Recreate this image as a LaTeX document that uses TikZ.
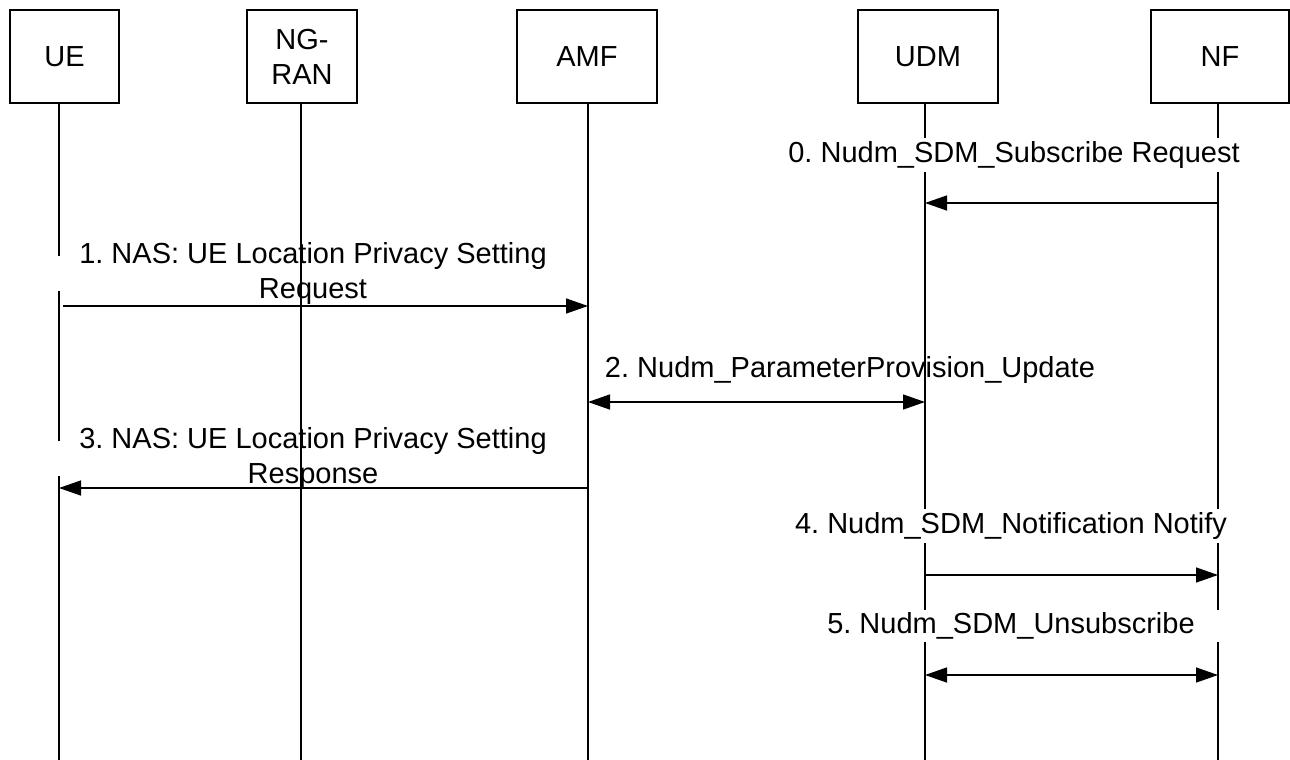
\documentclass[tikz,border=0pt]{standalone}
\usepackage{fontspec}
\setmainfont{Liberation Sans}
\usetikzlibrary{arrows.meta}
\frenchspacing

\begin{document}
\begin{tikzpicture}[x=0.5pt,y=-0.5pt,
  >={Triangle[length=11pt,width=7.5pt]},
  font=\fontsize{14.5}{17.5}\selectfont,
  entity/.style={draw,line width=0.9pt,minimum height=46.5pt,inner sep=0pt,align=center},
  life/.style={line width=0.75pt},
  msg/.style={line width=0.7pt},
  msglabel/.style={fill=white,inner xsep=0pt,inner ysep=1.5pt,align=center}]
\useasboundingbox (0,0) rectangle (1290,760);

% entities
\node[entity,minimum width=54.5pt] (UE) at (64.5,56.5) {UE};
\node[entity,minimum width=55pt] (RAN) at (302,56.5) {NG-\\RAN};
\node[entity,minimum width=70pt] (AMF) at (587,56.5) {AMF};
\node[entity,minimum width=70pt] (UDM) at (928,56.5) {UDM};
\node[entity,minimum width=69pt] (NF) at (1220,56.5) {NF};

% lifeline ends
\coordinate (ueL) at (59,760);
\coordinate (ranL) at (301,760);
\coordinate (amfL) at (588,760);
\coordinate (udmL) at (925,760);
\coordinate (nfL) at (1218,760);

\draw[life] (UE.south -| ueL) -- (ueL);
\draw[life] (AMF.south -| amfL) -- (amfL);
\draw[life] (UDM.south -| udmL) -- (udmL);
\draw[life] (NF.south -| nfL) -- (nfL);

% message heights
\coordinate (t0) at (0,203);
\coordinate (t1) at (0,306);
\coordinate (t2) at (0,402);
\coordinate (t3) at (0,488);
\coordinate (t4) at (0,575);
\coordinate (t5) at (0,675);

% labels
\node[msglabel,minimum width=230pt] (l0) at (1014,155) {0. Nudm\_SDM\_Subscribe Request};
\node[msglabel,minimum width=260pt,inner ysep=-7pt] (l1) at (313,273.5) {1. NAS: UE Location Privacy Setting\\Request};
\node[msglabel,fill=none] (l2) at (850,370) {2. Nudm\_ParameterProvision\_Update};
\node[msglabel,minimum width=260pt,inner ysep=-7pt] (l3) at (313,458.5) {3. NAS: UE Location Privacy Setting\\Response};
\node[msglabel,minimum width=230pt] (l4) at (1011,526) {4. Nudm\_SDM\_Notification Notify};
\node[msglabel,minimum width=230pt] (l5) at (1011,626) {5. Nudm\_SDM\_Unsubscribe};

\draw[life] (RAN.south -| ranL) -- (ranL);

% messages
\draw[msg,->] (nfL |- t0) -- (udmL |- t0);
\draw[msg,->,shorten <=2pt] (ueL |- t1) -- (amfL |- t1);
\draw[msg,<->] (amfL |- t2) -- (udmL |- t2);
\draw[msg,->] (amfL |- t3) -- (ueL |- t3);
\draw[msg,->] (udmL |- t4) -- (nfL |- t4);
\draw[msg,<->] (udmL |- t5) -- (nfL |- t5);
\end{tikzpicture}
\end{document}
